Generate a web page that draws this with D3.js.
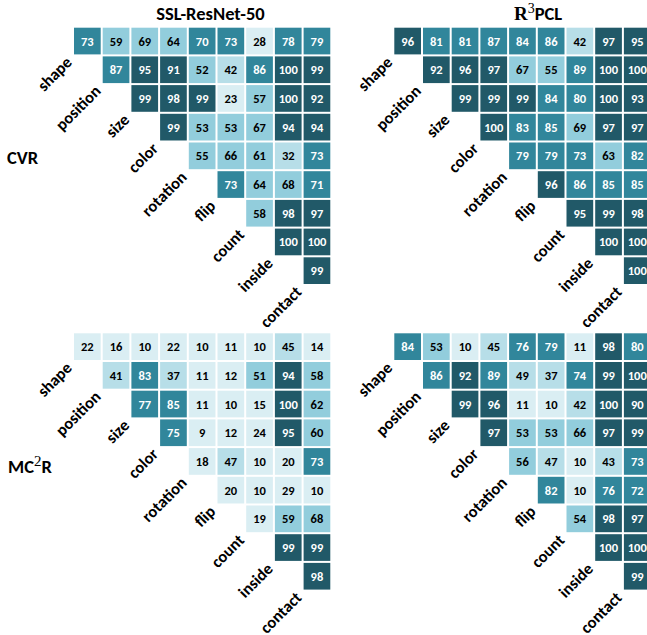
<!DOCTYPE html>
<html><head><meta charset="utf-8">
<script src="https://cdn.jsdelivr.net/npm/d3@7"></script>
<style>
body{margin:0;background:#fff;}
text{font-family:Carlito,Calibri,Lato,"Open Sans",sans-serif;}
</style></head>
<body>
<svg id="chart" width="647" height="635"></svg>
<script>
const categories = ["shape","position","size","color","rotation","flip","count","inside","contact"];
// upper-triangular rows (row i starts at column i)
const cvrSSL = [
  [73,59,69,64,70,73,28,78,79],
  [87,95,91,52,42,86,100,99],
  [99,98,99,23,57,100,92],
  [99,53,53,67,94,94],
  [55,66,61,32,73],
  [73,64,68,71],
  [58,98,97],
  [100,100],
  [99]
];
const cvrR3 = [
  [96,81,81,87,84,86,42,97,95],
  [92,96,97,67,55,89,100,100],
  [99,99,99,84,80,100,93],
  [100,83,85,69,97,97],
  [79,79,73,63,82],
  [96,86,85,85],
  [95,99,98],
  [100,100],
  [100]
];
const mc2rSSL = [
  [22,16,10,22,10,11,10,45,14],
  [41,83,37,11,12,51,94,58],
  [77,85,11,10,15,100,62],
  [75,9,12,24,95,60],
  [18,47,10,20,73],
  [20,10,29,10],
  [19,59,68],
  [99,99],
  [98]
];
const mc2rR3 = [
  [84,53,10,45,76,79,11,98,80],
  [86,92,89,49,37,74,99,100],
  [99,96,11,10,42,100,90],
  [97,53,53,66,97,99],
  [56,47,10,43,73],
  [82,10,76,72],
  [54,98,97],
  [100,100],
  [99]
];
const thresholds = [30,50,70,90];
const palette = ["#DAEEF3","#B7DEE8","#92CDDC","#31869B","#215968"];
const textColors = ["#000","#000","#000","#fff","#fff"];

const svg = d3.select("#chart");
const color = d3.scaleThreshold().domain(thresholds).range(palette);
const tcolor = d3.scaleThreshold().domain(thresholds).range(textColors);

const pitch = 28.7;
const band = d3.scaleBand().domain(categories).range([0, pitch*9]).paddingInner(0.07).paddingOuter(0.035);

function panel(rows, ox, oy){
  const g = svg.append("g").attr("transform", `translate(${ox - band(categories[0])},${oy - band(categories[0])})`);
  const cells = [];
  rows.forEach((r,i)=> r.forEach((v,k)=> cells.push({row:categories[i], col:categories[i+k], v})));
  const cg = g.selectAll("g.cell").data(cells).join("g").attr("class","cell")
    .attr("transform", d=>`translate(${band(d.col)},${band(d.row)})`);
  cg.append("rect").attr("width", band.bandwidth()).attr("height", band.bandwidth())
    .attr("fill", d=>color(d.v));
  cg.append("text").attr("x", band.bandwidth()/2).attr("y", band.bandwidth()/2+4.5)
    .attr("text-anchor","middle").attr("font-size",12.5).attr("font-weight","bold")
    .attr("fill", d=>tcolor(d.v)).text(d=>d.v);
  g.selectAll("text.lab").data(categories).join("text").attr("class","lab")
    .attr("transform", d=>`translate(${band(d)-1},${band(d)+band.bandwidth()+9}) rotate(-45)`)
    .attr("text-anchor","end").attr("font-size",16.5).attr("font-weight","bold").attr("fill","#000")
    .text(d=>d);
}
panel(cvrSSL, 74, 27.7);
panel(cvrR3, 394.3, 27.7);
panel(mc2rSSL, 74, 333.3);
panel(mc2rR3, 394.3, 333.3);

// titles
svg.append("text").attr("x",210.5).attr("y",20).attr("text-anchor","middle")
  .attr("font-size",18.5).attr("font-weight","bold").text("SSL-ResNet-50");
const t2 = svg.append("text").attr("x",538).attr("y",20).attr("text-anchor","middle")
  .attr("font-size",18.5).attr("font-weight","bold");
t2.append("tspan").attr("font-family","'Liberation Serif',serif").attr("font-weight","bold").attr("font-size",19).text("R");
t2.append("tspan").attr("font-family","'Liberation Serif',serif").attr("font-weight","normal").attr("font-size",14).attr("dy",-7).text("3");
t2.append("tspan").attr("dy",7).text("PCL");

svg.append("text").attr("x",7).attr("y",164).attr("font-size",18.5).attr("font-weight","bold").text("CVR");
const t4 = svg.append("text").attr("x",8).attr("y",473).attr("font-size",18.5).attr("font-weight","bold");
t4.append("tspan").text("MC");
t4.append("tspan").attr("font-family","'Liberation Serif',serif").attr("font-weight","normal").attr("font-size",15).attr("dy",-7).text("2");
t4.append("tspan").attr("dy",7).text("R");
</script>
</body></html>
